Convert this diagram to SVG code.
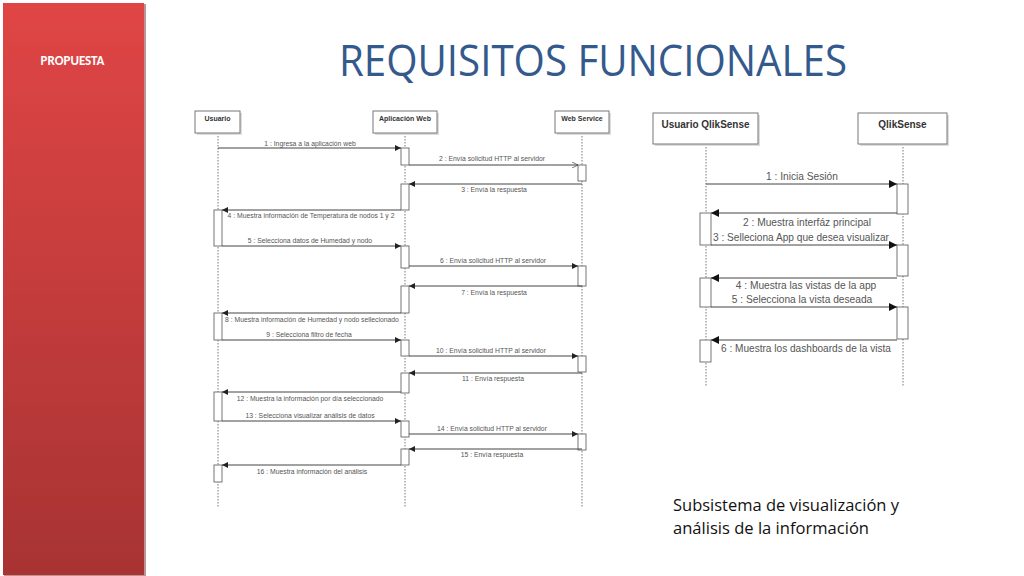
<svg xmlns="http://www.w3.org/2000/svg" width="1024" height="576" viewBox="0 0 1024 576">
<defs>
<linearGradient id="side" x1="0" y1="0" x2="0" y2="1">
<stop offset="0" stop-color="#E04545"/>
<stop offset="1" stop-color="#A83333"/>
</linearGradient>
<marker id="fl" viewBox="0 0 10 10" refX="10" refY="5" markerWidth="6" markerHeight="6" markerUnits="userSpaceOnUse" orient="auto">
<path d="M0,0 L10,5 L0,10 z" fill="#222"/>
</marker>
<marker id="ol" viewBox="0 0 10 10" refX="10" refY="5" markerWidth="7" markerHeight="6" markerUnits="userSpaceOnUse" orient="auto">
<path d="M0,0 L10,5 L0,10" fill="none" stroke="#444" stroke-width="1.2"/>
</marker>
<marker id="fr" viewBox="0 0 10 10" refX="10" refY="5" markerWidth="10" markerHeight="8" markerUnits="userSpaceOnUse" orient="auto">
<path d="M0,0 L10,5 L0,10 z" fill="#111"/>
</marker>
</defs>
<style>
.hdr{fill:#fff;stroke:#777;stroke-width:1}
.shd{fill:#ddd}
.act{fill:#fff;stroke:#666;stroke-width:0.9}
.life{stroke:#777;stroke-width:1;stroke-dasharray:1.5,1.5;fill:none}
.msg{stroke:#444;stroke-width:1;fill:none}
.lt{font-family:"Liberation Sans",Arial,sans-serif;font-size:6.8px;fill:#555;text-anchor:middle}
.lh{font-family:"Liberation Sans",Arial,sans-serif;font-size:7px;font-weight:bold;fill:#333;text-anchor:middle}
.rt{font-family:"Liberation Sans",Arial,sans-serif;font-size:10.2px;fill:#555;text-anchor:middle}
.rh{font-family:"Liberation Sans",Arial,sans-serif;font-size:10px;font-weight:bold;fill:#333;text-anchor:middle}
</style>
<rect width="1024" height="576" fill="#fff"/>
<g id="sidebar">
<rect x="4" y="4" width="142" height="573" fill="#7a2a2a" opacity="0.5"/>
<rect x="3" y="3" width="141" height="572" fill="url(#side)"/>
<text x="72.5" y="64.5" font-family="Calibri,'Open Sans','Liberation Sans',sans-serif" font-size="13" font-weight="bold" fill="#fff" text-anchor="middle">PROPUESTA</text>
</g>
<g id="title">
<text x="593" y="76" font-family="'Open Sans','Liberation Sans',sans-serif" font-size="44" fill="#34598C" text-anchor="middle" textLength="508" lengthAdjust="spacingAndGlyphs">REQUISITOS FUNCIONALES</text>
</g>
<g id="caption" font-family="'Open Sans','Liberation Sans',sans-serif" font-size="17" fill="#111">
<text x="673" y="511" textLength="226" lengthAdjust="spacingAndGlyphs">Subsistema de visualización y</text>
<text x="673" y="534" textLength="196" lengthAdjust="spacingAndGlyphs">análisis de la información</text>
</g>
<g id="left-lifelines">
<line class="life" x1="218" y1="133" x2="218" y2="508"/>
<line class="life" x1="405" y1="133" x2="405" y2="508"/>
<line class="life" x1="582" y1="133" x2="582" y2="508"/>
</g>
<g id="node-usuario">
<rect class="shd" x="197" y="113" width="45" height="22"/>
<rect class="hdr" x="195" y="111" width="45" height="22"/>
<text class="lh" x="217.5" y="120.5">Usuario</text>
</g>
<g id="node-aplicacion-web">
<rect class="shd" x="375" y="113" width="64" height="22"/>
<rect class="hdr" x="373" y="111" width="64" height="22"/>
<text class="lh" x="405" y="120.5">Aplicación Web</text>
</g>
<g id="node-web-service">
<rect class="shd" x="557" y="113" width="54" height="22"/>
<rect class="hdr" x="555" y="111" width="54" height="22"/>
<text class="lh" x="582" y="120.5">Web Service</text>
</g>
<g id="left-activations">
<rect class="act" x="401" y="148" width="8" height="17"/>
<rect class="act" x="401" y="184" width="8" height="26"/>
<rect class="act" x="401" y="246" width="8" height="22"/>
<rect class="act" x="401" y="286" width="8" height="27"/>
<rect class="act" x="401" y="340" width="8" height="16"/>
<rect class="act" x="401" y="373" width="8" height="20"/>
<rect class="act" x="401" y="421" width="8" height="16"/>
<rect class="act" x="401" y="449" width="8" height="16"/>
<rect class="act" x="578" y="165" width="8" height="16"/>
<rect class="act" x="578" y="266" width="8" height="20"/>
<rect class="act" x="578" y="356" width="8" height="16"/>
<rect class="act" x="578" y="434" width="8" height="16"/>
<rect class="act" x="214" y="210" width="8" height="36"/>
<rect class="act" x="214" y="313" width="8" height="27"/>
<rect class="act" x="214" y="392" width="8" height="29"/>
<rect class="act" x="214" y="465" width="8" height="17"/>
</g>
<g id="left-connectors">
<line class="msg" x1="218" y1="148" x2="401" y2="148" marker-end="url(#fl)"/>
<line class="msg" x1="409" y1="165" x2="578" y2="165" marker-end="url(#ol)"/>
<line class="msg" x1="582" y1="184" x2="409" y2="184" marker-end="url(#fl)"/>
<line class="msg" x1="401" y1="210" x2="222" y2="210" marker-end="url(#fl)"/>
<line class="msg" x1="222" y1="246" x2="401" y2="246" marker-end="url(#fl)"/>
<line class="msg" x1="409" y1="266" x2="578" y2="266" marker-end="url(#fl)"/>
<line class="msg" x1="582" y1="286" x2="409" y2="286" marker-end="url(#fl)"/>
<line class="msg" x1="401" y1="313" x2="222" y2="313" marker-end="url(#fl)"/>
<line class="msg" x1="222" y1="340" x2="401" y2="340" marker-end="url(#fl)"/>
<line class="msg" x1="409" y1="356" x2="578" y2="356" marker-end="url(#fl)"/>
<line class="msg" x1="582" y1="373" x2="409" y2="373" marker-end="url(#fl)"/>
<line class="msg" x1="401" y1="392" x2="222" y2="392" marker-end="url(#fl)"/>
<line class="msg" x1="222" y1="421" x2="401" y2="421" marker-end="url(#fl)"/>
<line class="msg" x1="409" y1="434" x2="578" y2="434" marker-end="url(#fl)"/>
<line class="msg" x1="582" y1="449" x2="409" y2="449" marker-end="url(#fl)"/>
<line class="msg" x1="401" y1="465" x2="222" y2="465" marker-end="url(#fl)"/>
<text class="lt" x="310" y="145.5">1 : Ingresa a la aplicación web</text>
<text class="lt" x="492" y="160.5">2 : Envía solicitud HTTP al servidor</text>
<text class="lt" x="494" y="191.5">3 : Envía la respuesta</text>
<text class="lt" x="311" y="217.5">4 : Muestra información de Temperatura de nodos 1 y 2</text>
<text class="lt" x="310" y="242.5">5 : Selecciona datos de Humedad y nodo</text>
<text class="lt" x="493" y="262.5">6 : Envía solicitud HTTP al servidor</text>
<text class="lt" x="494" y="294.5">7 : Envía la respuesta</text>
<text class="lt" x="312" y="321.5">8 : Muestra información de Humedad y nodo sellecionado</text>
<text class="lt" x="309" y="336.5">9 : Selecciona filtro de fecha</text>
<text class="lt" x="491" y="352.5">10 : Envía solicitud HTTP al servidor</text>
<text class="lt" x="493" y="380.5">11 : Envía respuesta</text>
<text class="lt" x="310" y="400.5">12 : Muestra la información por día seleccionado</text>
<text class="lt" x="310" y="417.5">13 : Selecciona visualizar análisis de datos</text>
<text class="lt" x="492" y="430.5">14 : Envía solicitud HTTP al servidor</text>
<text class="lt" x="492" y="456.5">15 : Envía respuesta</text>
<text class="lt" x="312" y="473.5">16 : Muestra información del análisis</text>
</g>
<g id="right-lifelines">
<line class="life" x1="706" y1="144" x2="706" y2="387"/>
<line class="life" x1="903" y1="144" x2="903" y2="387"/>
</g>
<g id="node-usuario-qliksense">
<rect class="shd" x="655" y="115" width="105" height="31"/>
<rect class="hdr" x="653" y="113" width="105" height="31"/>
<text class="rh" x="705.5" y="127.5" textLength="88" lengthAdjust="spacingAndGlyphs">Usuario QlikSense</text>
</g>
<g id="node-qliksense">
<rect class="shd" x="860" y="115" width="89" height="31"/>
<rect class="hdr" x="858" y="113" width="89" height="31"/>
<text class="rh" x="902.5" y="127.5">QlikSense</text>
</g>
<g id="right-activations">
<rect class="act" x="897" y="184" width="11" height="30"/>
<rect class="act" x="897" y="245" width="11" height="31"/>
<rect class="act" x="897" y="307" width="11" height="32"/>
<rect class="act" x="700" y="213" width="11" height="32"/>
<rect class="act" x="700" y="278" width="11" height="29"/>
<rect class="act" x="700" y="340" width="11" height="22"/>
</g>
<g id="right-connectors">
<line class="msg" x1="706" y1="184" x2="897" y2="184" marker-end="url(#fr)"/>
<line class="msg" x1="897" y1="213" x2="711" y2="213" marker-end="url(#fr)"/>
<line class="msg" x1="711" y1="245" x2="897" y2="245" marker-end="url(#fr)"/>
<line class="msg" x1="897" y1="278" x2="711" y2="278" marker-end="url(#fr)"/>
<line class="msg" x1="711" y1="307" x2="897" y2="307" marker-end="url(#fr)"/>
<line class="msg" x1="897" y1="340" x2="711" y2="340" marker-end="url(#fr)"/>
<text class="rt" x="802" y="179.5">1 : Inicia Sesión</text>
<text class="rt" x="807" y="225.5">2 : Muestra interfáz principal</text>
<text class="rt" x="801" y="240.5" textLength="176" lengthAdjust="spacingAndGlyphs">3 : Selleciona App que desea visualizar</text>
<text class="rt" x="806" y="288.5">4 : Muestra las vistas de la app</text>
<text class="rt" x="802" y="302.5">5 : Selecciona la vista deseada</text>
<text class="rt" x="806" y="351.5" textLength="170" lengthAdjust="spacingAndGlyphs">6 : Muestra los dashboards de la vista</text>
</g>
</svg>
